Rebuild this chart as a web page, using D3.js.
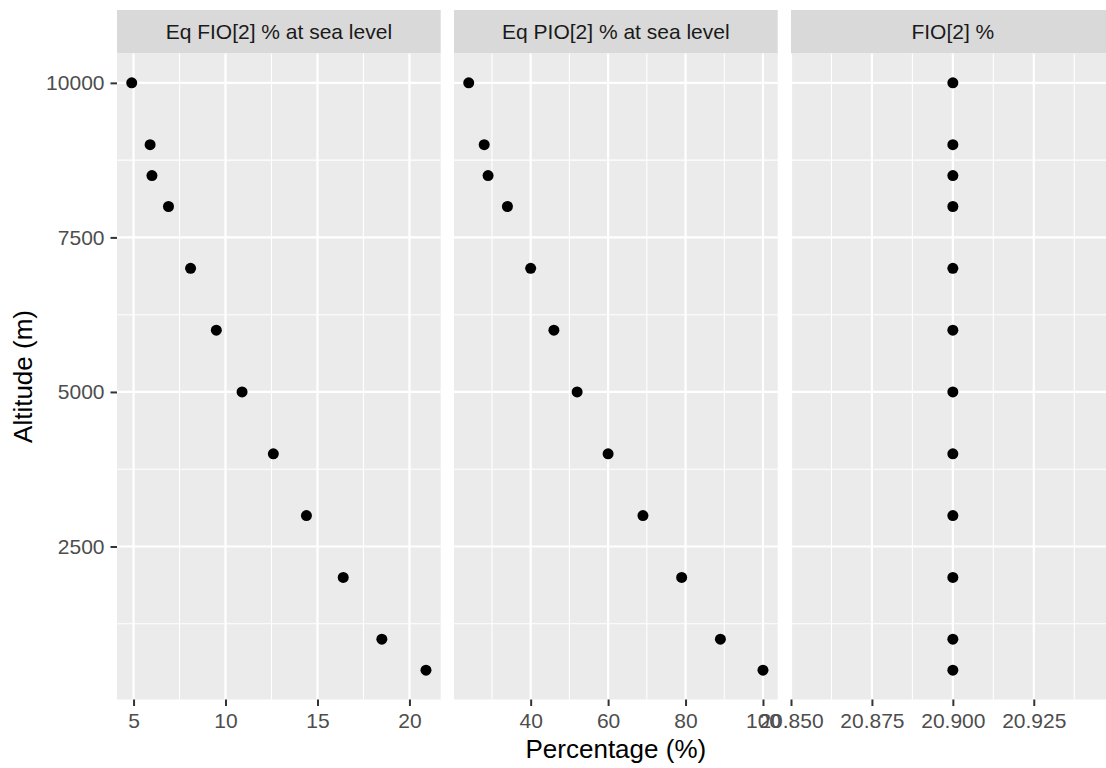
<!DOCTYPE html>
<html>
<head>
<meta charset="utf-8">
<script src="https://cdn.jsdelivr.net/npm/d3@7"></script>
<style>
  body { margin: 0; background: #fff; overflow: hidden; }
  svg { display: block; font-family: "Liberation Sans", Arial, sans-serif; }
</style>
</head>
<body>
<div id="chart"></div>
<script>
// data
var altitude = [10000, 9000, 8500, 8000, 7000, 6000, 5000, 4000, 3000, 2000, 1000, 500];
var eqFio2 = [4.9, 5.9, 6.0, 6.9, 8.1, 9.5, 10.9, 12.6, 14.4, 16.4, 18.5, 20.9];
var eqPio2 = [24, 28, 29, 34, 40, 46, 52, 60, 69, 79, 89, 100];
var fio2 = [20.9, 20.9, 20.9, 20.9, 20.9, 20.9, 20.9, 20.9, 20.9, 20.9, 20.9, 20.9];
var facetNames = ["Eq FIO[2] % at sea level", "Eq PIO[2] % at sea level", "FIO[2] %"];
var facetValues = [eqFio2, eqPio2, fio2];
var xTicks = [[5, 10, 15, 20], [40, 60, 80, 100], [20.85, 20.875, 20.9, 20.925]];
var xMinor = [[7.5, 12.5, 17.5], [30, 50, 70, 90], [20.8625, 20.8875, 20.9125, 20.9375]];
var xFormats = [d3.format("d"), d3.format("d"), d3.format(".3f")];
var yTicks = [2500, 5000, 7500, 10000];
var yMinor = [1250, 3750, 6250, 8750];

var width = 1106, height = 768;
var panelTop = 53.5, panelBottom = 699.5, stripTop = 10;
var panelLeft = 117, panelW = 323.7, panelGap = 13.3;

var svg = d3.select("#chart").append("svg").attr("width", width).attr("height", height);

function expand(vals) {
  var lo = d3.min(vals), hi = d3.max(vals);
  if (hi - lo === 0) return [lo - 0.05, hi + 0.05];
  var pad = (hi - lo) * 0.05;
  return [lo - pad, hi + pad];
}

var yScale = d3.scaleLinear().domain(expand(altitude)).range([panelBottom, panelTop]);

facetNames.forEach(function(name, i) {
  var x0 = panelLeft + i * (panelW + panelGap);
  var xScale = d3.scaleLinear().domain(expand(facetValues[i])).range([x0, x0 + panelW]);
  var g = svg.append("g");

  // strip
  g.append("rect").attr("x", x0).attr("y", stripTop).attr("width", panelW).attr("height", panelTop - stripTop).attr("fill", "#D9D9D9");
  g.append("text").attr("x", x0 + panelW / 2).attr("y", 38.5).attr("text-anchor", "middle")
    .attr("font-size", 21).attr("fill", "#1A1A1A").text(name);

  // panel
  g.append("rect").attr("x", x0).attr("y", panelTop).attr("width", panelW).attr("height", panelBottom - panelTop).attr("fill", "#EBEBEB");

  g.selectAll(".ymin").data(yMinor).enter().append("line")
    .attr("x1", x0).attr("x2", x0 + panelW).attr("y1", yScale).attr("y2", yScale)
    .attr("stroke", "#fff").attr("stroke-width", 1.1);
  g.selectAll(".xmin").data(xMinor[i]).enter().append("line")
    .attr("x1", xScale).attr("x2", xScale).attr("y1", panelTop).attr("y2", panelBottom)
    .attr("stroke", "#fff").attr("stroke-width", 1.1);
  g.selectAll(".ymaj").data(yTicks).enter().append("line")
    .attr("x1", x0).attr("x2", x0 + panelW).attr("y1", yScale).attr("y2", yScale)
    .attr("stroke", "#fff").attr("stroke-width", 2.2);
  g.selectAll(".xmaj").data(xTicks[i]).enter().append("line")
    .attr("x1", xScale).attr("x2", xScale).attr("y1", panelTop).attr("y2", panelBottom)
    .attr("stroke", "#fff").attr("stroke-width", 2.2);

  // points
  g.selectAll("circle").data(altitude).enter().append("circle")
    .attr("cx", function(d, j) { return xScale(facetValues[i][j]); })
    .attr("cy", function(d) { return yScale(d); })
    .attr("r", 5.5).attr("fill", "#000");

  // x axis
  var xAxis = d3.axisBottom(xScale).tickValues(xTicks[i]).tickFormat(xFormats[i]).tickSizeInner(6.5).tickSizeOuter(0).tickPadding(7);
  var ax = svg.append("g").attr("transform", "translate(0," + panelBottom + ")").call(xAxis);
  ax.select(".domain").remove();
  ax.selectAll("line").attr("stroke", "#333333").attr("stroke-width", 2);
  ax.selectAll("text").attr("fill", "#4D4D4D").attr("font-size", 21).attr("font-family", "Liberation Sans, Arial, sans-serif");
});

// y axis
var yAxis = d3.axisLeft(yScale).tickValues(yTicks).tickFormat(d3.format("d")).tickSizeInner(6.5).tickSizeOuter(0).tickPadding(6);
var ay = svg.append("g").attr("transform", "translate(" + panelLeft + ",0)").call(yAxis);
ay.select(".domain").remove();
ay.selectAll("line").attr("stroke", "#333333").attr("stroke-width", 2);
ay.selectAll("text").attr("fill", "#4D4D4D").attr("font-size", 21).attr("font-family", "Liberation Sans, Arial, sans-serif");

// axis titles
svg.append("text").attr("x", panelLeft + (3 * panelW + 2 * panelGap) / 2).attr("y", 758)
  .attr("text-anchor", "middle").attr("font-size", 26).attr("fill", "#000").text("Percentage (%)");
svg.append("text").attr("transform", "translate(32," + (panelTop + panelBottom) / 2 + ") rotate(-90)")
  .attr("text-anchor", "middle").attr("font-size", 26).attr("fill", "#000").text("Altitude (m)");
</script>
</body>
</html>
